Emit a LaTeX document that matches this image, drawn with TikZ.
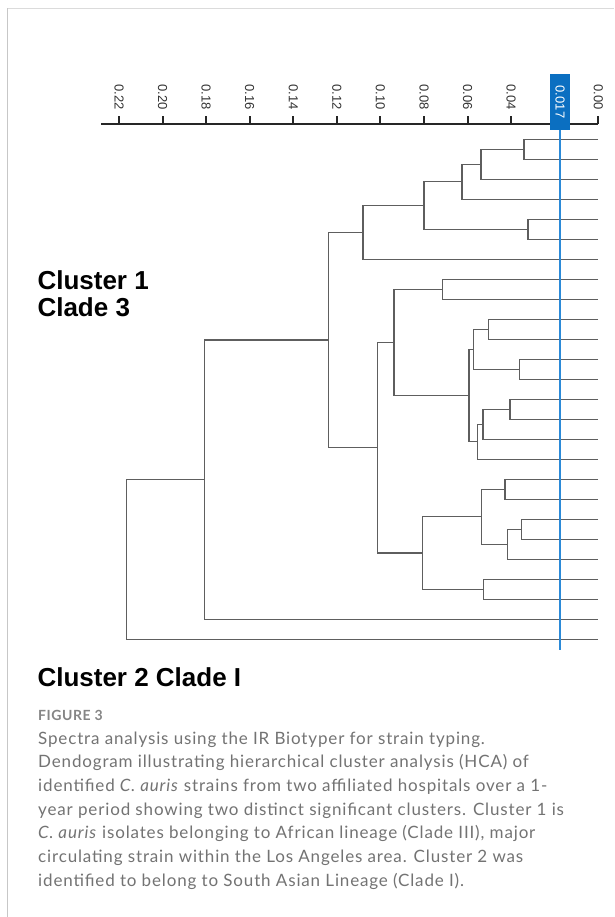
\documentclass[tikz,border=0pt]{standalone}
\usepackage{fontspec}
\setmainfont{Liberation Sans}
\newfontfamily\capfont{Lato}[LetterSpace=5]
\newfontfamily\figfont{Lato}[LetterSpace=4]
\definecolor{dendro}{HTML}{5E5E5E}
\definecolor{bluebox}{HTML}{0B6FC1}
\definecolor{blueline}{HTML}{2B8AD8}
\definecolor{capgray}{HTML}{737373}
\definecolor{figgray}{HTML}{858585}
\begin{document}
\begin{tikzpicture}[x=1pt,y=-1pt,
  dline/.style={draw=dendro,line width=1.3pt},
  axisline/.style={draw=black!85,line width=1.6pt},
  ticklbl/.style={rotate=-90,anchor=west,inner sep=0pt,font=\fontsize{13}{13}\selectfont,text=black!80},
  bigl/.style={anchor=base west,inner sep=0pt,font=\fontsize{26}{26}\selectfont\bfseries},
  capl/.style={anchor=base west,inner sep=0pt,font=\capfont\fontsize{17}{17}\selectfont,text=capgray}]
\useasboundingbox (0,0) rectangle (614,917);
\fill[white] (0,0) rectangle (614,917);
% frame
\draw[color=black!14,line width=1.5pt] (7,8.5) -- (614,8.5);
\draw[color=black!22,line width=1pt] (7,8.5) -- (7,917);
% axis
\coordinate (ax0) at (101,124.3);
\coordinate (ax1) at (598.3,124.3);
\draw[axisline] (ax0) -- (ax1);
\foreach \i/\l in {0/0.22,1/0.20,2/0.18,3/0.16,4/0.14,5/0.12,6/0.10,7/0.08,8/0.06,9/0.04,11/0.00}{
  \coordinate (tk\i) at ({119+43.57*\i},124.3);
  \draw[axisline,line width=2pt] (tk\i) -- ++(0,-7.8);
  \node[ticklbl] (tl\i) at ({119+43.57*\i},84) {\l};
}
% leaves
\foreach \k in {0,...,25}{\coordinate (L\k) at (598,{139.3+20*\k});}
% internal nodes
\coordinate (n01) at (524,149.3);
\coordinate (n012) at (481,164.3);
\coordinate (n0123) at (462,181.8);
\coordinate (n45) at (528,229.3);
\coordinate (nA) at (424,205.6);
\coordinate (nTop) at (363,232.4);
\coordinate (n78) at (442.7,289.3);
\coordinate (n910) at (488.3,329.3);
\coordinate (n1112) at (519.3,369.3);
\coordinate (nB) at (473.3,349.3);
\coordinate (n1314) at (510,409.3);
\coordinate (n1315) at (483,424.3);
\coordinate (n1316) at (477.7,441.8);
\coordinate (nC) at (469,395.6);
\coordinate (nD) at (394,342.4);
\coordinate (n1718) at (505,489.3);
\coordinate (n1920) at (521.7,529.3);
\coordinate (n1921) at (507.7,544.3);
\coordinate (nE) at (481.7,516.8);
\coordinate (n2223) at (483.3,589.3);
\coordinate (nF) at (422.7,553);
\coordinate (nG) at (377.7,447.7);
\coordinate (nH) at (328.5,340);
\coordinate (nI) at (204.3,479.7);
\coordinate (root) at (126.7,559.5);
% dendrogram
\draw[dline] (L0) -| (n01) |- (L1);
\draw[dline] (n01) -| (n012) |- (L2);
\draw[dline] (n012) -| (n0123) |- (L3);
\draw[dline] (L4) -| (n45) |- (L5);
\draw[dline] (n0123) -| (nA) |- (n45);
\draw[dline] (nA) -| (nTop) |- (L6);
\draw[dline] (L7) -| (n78) |- (L8);
\draw[dline] (L9) -| (n910) |- (L10);
\draw[dline] (L11) -| (n1112) |- (L12);
\draw[dline] (n910) -| (nB) |- (n1112);
\draw[dline] (L13) -| (n1314) |- (L14);
\draw[dline] (n1314) -| (n1315) |- (L15);
\draw[dline] (n1315) -| (n1316) |- (L16);
\draw[dline] (nB) -| (nC) |- (n1316);
\draw[dline] (n78) -| (nD) |- (nC);
\draw[dline] (L17) -| (n1718) |- (L18);
\draw[dline] (L19) -| (n1920) |- (L20);
\draw[dline] (n1920) -| (n1921) |- (L21);
\draw[dline] (n1718) -| (nE) |- (n1921);
\draw[dline] (L22) -| (n2223) |- (L23);
\draw[dline] (nE) -| (nF) |- (n2223);
\draw[dline] (nD) -| (nG) |- (nF);
\draw[dline] (nTop) -| (nH) |- (nG);
\draw[dline] (nH) -| (nI) |- (L24);
\draw[dline] (nI) -| (root) |- (L25);
% cut line
\node[rotate=-90,fill=bluebox,text=white,minimum width=56pt,minimum height=20pt,inner sep=0pt,
  font=\fontsize{13}{13}\selectfont] (cut) at (560,102) {0.017};
\coordinate (cutend) at (560,650);
\draw[draw=blueline,line width=2pt] (cut.east) -- (cutend);
% cluster labels
\node[bigl] (c1a) at (37.3,289.3) {Cluster 1};
\node[bigl] (c1b) at (37.3,316) {Clade 3};
\node[bigl] (c2) at (37.3,686.7) {Cluster 2 Clade I};
% caption
\node[anchor=base west,inner sep=0pt,font=\figfont\bfseries\fontsize{14}{14}\selectfont,text=figgray] (fig) at (38,720.7) {FIGURE 3};
\node[capl] (cap1) at (38,744) {Spectra analysis using the IR Biotyper for strain typing.};
\node[capl] (cap2) at (38,767.7) {Dendogram illustrating hierarchical cluster analysis (HCA) of};
\node[capl] (cap3) at (38,791.3) {identified \textit{C. auris} strains from two affiliated hospitals over a 1-};
\node[capl] (cap4) at (38,815) {year period showing two distinct significant clusters. Cluster 1 is};
\node[capl] (cap5) at (38,838.7) {\textit{C. auris} isolates belonging to African lineage (Clade III), major};
\node[capl] (cap6) at (38,862.3) {circulating strain within the Los Angeles area. Cluster 2 was};
\node[capl] (cap7) at (38,886) {identified to belong to South Asian Lineage (Clade I).};
\end{tikzpicture}
\end{document}
